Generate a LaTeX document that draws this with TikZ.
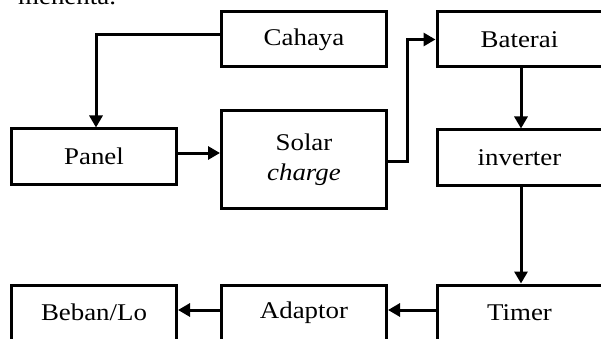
\documentclass[tikz,border=0pt]{standalone}
\usepackage{fontspec}
\setmainfont{Liberation Serif}[FakeStretch=1.12]
\usetikzlibrary{arrows.meta}
\begin{document}
\begin{tikzpicture}[x=1pt,y=-1pt,
  blk/.style={draw=black, line width=3pt, minimum width=165pt, minimum height=55pt, inner sep=0pt, align=center, font=\fontsize{24}{28}\selectfont},
  arr/.style={line width=3pt, -{Triangle[length=12pt,width=13pt]}},
  ln/.style={line width=3pt}]
\useasboundingbox (0,0) rectangle (601,339);
\clip (0,0) rectangle (601,339);
\fill[white] (0,0) rectangle (601,339);
\node[anchor=base west, inner sep=0pt, font=\fontsize{24}{28}\selectfont] (top) at (18,5) {menenta.};
\node[blk] (cahaya) at (304,39.5) {Cahaya};
\node[blk] (baterai) at (519.5,39.5) {Baterai};
\node[blk] (panel) at (94,156.5) {Panel};
\node[blk, minimum height=97pt] (solar) at (304,159.5) {Solar\\[2pt]\itshape charge};
\node[blk] (inverter) at (519.5,157.5) {inverter};
\node[blk] (beban) at (94,312.5) {Beban/Lo};
\node[blk] (adaptor) at (304,312.5) {Adaptor};
\node[blk] (timer) at (519.5,312.5) {Timer};
\coordinate (c1) at ([yshift=4.5pt]cahaya.west);
\coordinate (c2) at (96,0);
\draw[arr] (c1) -| (c2 |- panel.north);
\draw[arr] ([yshift=3.5pt]panel.east) -- ([yshift=3.5pt]panel.east -| solar.west);
\coordinate (sx) at (407,0);
\draw[arr] ([yshift=-1.5pt]solar.east) -| (sx |- baterai.west) -- (baterai.west);
\draw[arr] ([xshift=1.5pt]baterai.south) -- ([xshift=1.5pt]inverter.north);
\draw[arr] ([xshift=1.5pt]inverter.south) -- ([xshift=1.5pt]timer.north);
\draw[arr] ([yshift=2.5pt]timer.west) -- ([yshift=2.5pt]adaptor.east);
\draw[arr] ([yshift=2.5pt]adaptor.west) -- ([yshift=2.5pt]beban.east);
\end{tikzpicture}
\end{document}
